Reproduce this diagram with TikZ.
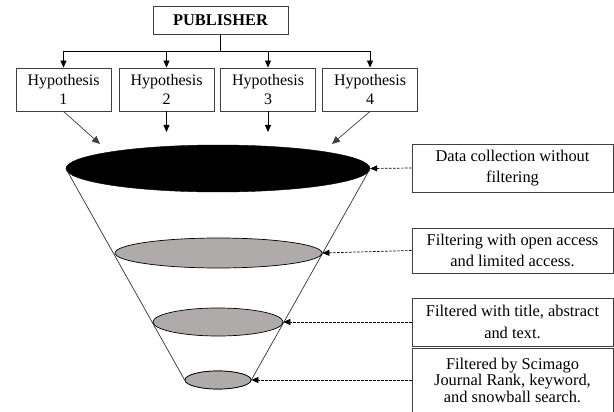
\documentclass[tikz,border=0pt]{standalone}
\usepackage{fontspec}
\setmainfont{Liberation Serif}
\usetikzlibrary{shapes.geometric,arrows.meta}
\definecolor{funnelgray}{HTML}{AFABAB}
\definecolor{boxline}{HTML}{404040}
\tikzset{
  txtbox/.style={draw=boxline,line width=0.9pt,inner sep=0pt,align=center,
    font=\fontsize{16.4}{17}\selectfont},
  hypbox/.style={txtbox,minimum width=95pt,minimum height=43pt},
  sidebox/.style={txtbox,minimum width=201pt},
  layer/.style={ellipse,draw=black,line width=0.7pt,fill=funnelgray,inner sep=0pt},
  arr/.style={-{Triangle[length=7pt,width=6pt]},line width=0.8pt},
  thinarr/.style={-{Triangle[length=8pt,width=7pt]},line width=0.7pt,draw=black!75},
  dasharr/.style={-{Triangle[length=7pt,width=6pt]},dashed,dash pattern=on 2.5pt off 1.5pt,line width=0.7pt},
  funnel/.style={line width=0.7pt,draw=black!80}
}
\begin{document}
\begin{tikzpicture}[x=1pt,y=-1pt]
\clip (0,0) rectangle (614,412);
\useasboundingbox (0,0) rectangle (614,412);
% publisher
\node[txtbox,minimum width=135pt,minimum height=28pt,font=\fontsize{16.4}{17}\selectfont\bfseries] (pub) at (220.5,20) {PUBLISHER};
% hypotheses
\node[hypbox,font=\fontsize{16}{17}\selectfont] (h1) at (63.5,89.5) {Hypothesis\\[1.5pt]1};
\node[hypbox,font=\fontsize{16}{17}\selectfont] (h2) at (166.5,89.5) {Hypothesis\\[1.5pt]2};
\node[hypbox,font=\fontsize{16}{17}\selectfont] (h3) at (268,89.5) {Hypothesis\\[1.5pt]3};
\node[hypbox,font=\fontsize{16}{17}\selectfont] (h4) at (370,89.5) {Hypothesis\\[1.5pt]4};
\coordinate (bus) at (220.5,51);
\draw[line width=0.9pt] (pub.south) -- (bus);
\foreach \h in {h1,h2,h3,h4}{\draw[arr] (bus) -| (\h.north);}
% funnel
\node[layer,minimum width=66pt,minimum height=18pt] (e4) at (218,380) {};
\node[ellipse,fill=black,draw=black,inner sep=0pt,minimum width=304pt,minimum height=47pt] (e1) at (218,168.5) {};
\draw[funnel] (e1.east) -- (e4.east);
\draw[funnel] (e1.west) -- (e4.west);
\node[layer,minimum width=207pt,minimum height=30pt] (e2) at (218.5,253) {};
\node[layer,minimum width=130pt,minimum height=28pt] (e3) at (218,322) {};
\node[layer,minimum width=66pt,minimum height=18pt] at (218,380) {};
% arrows into funnel
\coordinate (t1) at (100,144);
\coordinate (t2) at (166.5,132);
\coordinate (t3) at (268,132);
\coordinate (t4) at (332,144);
\draw[thinarr] (h1.south) -- (t1);
\draw[arr] (h2.south) -- (t2);
\draw[arr] (h3.south) -- (t3);
\draw[thinarr] (h4.south) -- (t4);
% side boxes
\node[sidebox,minimum height=48pt] (s1) at (512.5,168) {Data collection without\\[4.5pt]filtering};
\node[sidebox,minimum height=45pt] (s2) at (512.5,250.5) {Filtering with open access\\[4.5pt]and limited access.};
\node[sidebox,minimum height=48pt] (s3) at (512.5,322) {Filtered with title, abstract\\[5pt]and text.};
\node[sidebox,minimum height=64pt] (s4) at (512.5,380) {Filtered by Scimago\\[-0.5pt]Journal Rank, keyword,\\[-0.5pt]and snowball search.};
\draw[dasharr] (s1.west) -- (e1.east);
\draw[dasharr] (s2.west) -- (e2.east);
\draw[dasharr] (s3.west) -- (e3.east);
\draw[dasharr] (s4.west) -- (e4.east);
\end{tikzpicture}
\end{document}
